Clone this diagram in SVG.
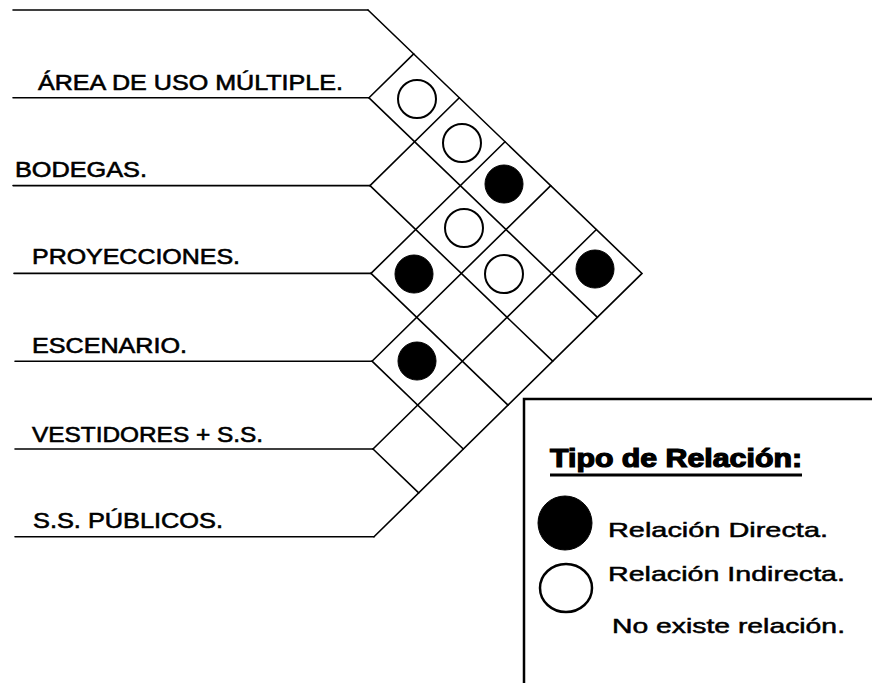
<svg xmlns="http://www.w3.org/2000/svg" width="872" height="683" viewBox="0 0 872 683">
  <style>
    .ln { stroke: #000; stroke-width: 1.6; fill: none; stroke-linecap: round; }
    .lbl { font-family: "Liberation Sans", Arial, sans-serif; font-size: 22px; fill: #000; stroke: #000; stroke-width: 0.6; }
    .leg { font-family: "Liberation Sans", Arial, sans-serif; font-size: 21px; fill: #000; stroke: #000; stroke-width: 0.5; }
    .title { font-family: "Liberation Sans", Arial, sans-serif; font-size: 25px; font-weight: bold; fill: #000; stroke: #000; stroke-width: 1.2; }
    .open { fill: #fff; stroke: #000; stroke-width: 2; }
    .full { fill: #000; stroke: #000; stroke-width: 1; }
  </style>
  <rect width="872" height="683" fill="#fff"/>

  <g id="connectors">
    <!-- horizontal row separators -->
    <path class="ln" d="M13 10 H368 M13 97.8 H369 M13 185.6 H370 M14 273.4 H371 M15 361.2 H372 M15 449 H373 M15 536.8 H374"/>
    <!-- outer edges of the triangular matrix -->
    <path class="ln" d="M368 10 L642 273.4 L374 536.8"/>
    <!-- up-right diagonals -->
    <path class="ln" d="M369 97.8 L413.7 53.9 M370 185.6 L459.3 97.8 M371 273.4 L505 141.7 M372 361.2 L550.7 185.6 M373 449 L596.4 229.5"/>
    <!-- down-right diagonals -->
    <path class="ln" d="M369 97.8 L597.4 317.3 M370 185.6 L552.7 361.2 M371 273.4 L508 405.1 M372 361.2 L463.3 449 M373 449 L418.7 492.9"/>
  </g>

  <g id="label-area"><text class="lbl" x="38" y="90" textLength="305" lengthAdjust="spacingAndGlyphs">ÁREA DE USO MÚLTIPLE.</text></g>
  <g id="label-bodegas"><text class="lbl" x="15" y="177" textLength="132" lengthAdjust="spacingAndGlyphs">BODEGAS.</text></g>
  <g id="label-proyecciones"><text class="lbl" x="32" y="264" textLength="208" lengthAdjust="spacingAndGlyphs">PROYECCIONES.</text></g>
  <g id="label-escenario"><text class="lbl" x="32" y="353" textLength="155" lengthAdjust="spacingAndGlyphs">ESCENARIO.</text></g>
  <g id="label-vestidores"><text class="lbl" x="32" y="442" textLength="231" lengthAdjust="spacingAndGlyphs">VESTIDORES + S.S.</text></g>
  <g id="label-publicos"><text class="lbl" x="33" y="528" textLength="190" lengthAdjust="spacingAndGlyphs">S.S. PÚBLICOS.</text></g>

  <g id="marks">
    <circle class="open" cx="417" cy="99" r="19"/>
    <circle class="open" cx="462" cy="143" r="19"/>
    <circle class="full" cx="504" cy="184" r="19"/>
    <circle class="open" cx="464" cy="228" r="19"/>
    <circle class="full" cx="414" cy="274" r="19"/>
    <circle class="open" cx="504" cy="274" r="19"/>
    <circle class="full" cx="595" cy="269" r="19"/>
    <circle class="full" cx="417" cy="361" r="19"/>
  </g>

  <g id="legend">
    <path d="M524 683 V399 H872" fill="none" stroke="#000" stroke-width="2.5"/>
    <text class="title" x="550" y="467" textLength="252" lengthAdjust="spacingAndGlyphs">Tipo de Relación:</text>
    <line x1="550" y1="475" x2="802" y2="475" stroke="#000" stroke-width="3"/>
    <circle class="full" cx="565" cy="523" r="27"/>
    <text class="leg" x="608" y="537" textLength="220" lengthAdjust="spacingAndGlyphs">Relación Directa.</text>
    <ellipse cx="566" cy="588" rx="26" ry="24" fill="#fff" stroke="#000" stroke-width="2.5"/>
    <text class="leg" x="608" y="581" textLength="237" lengthAdjust="spacingAndGlyphs">Relación Indirecta.</text>
    <text class="leg" x="612" y="633" textLength="233" lengthAdjust="spacingAndGlyphs">No existe relación.</text>
  </g>
</svg>
